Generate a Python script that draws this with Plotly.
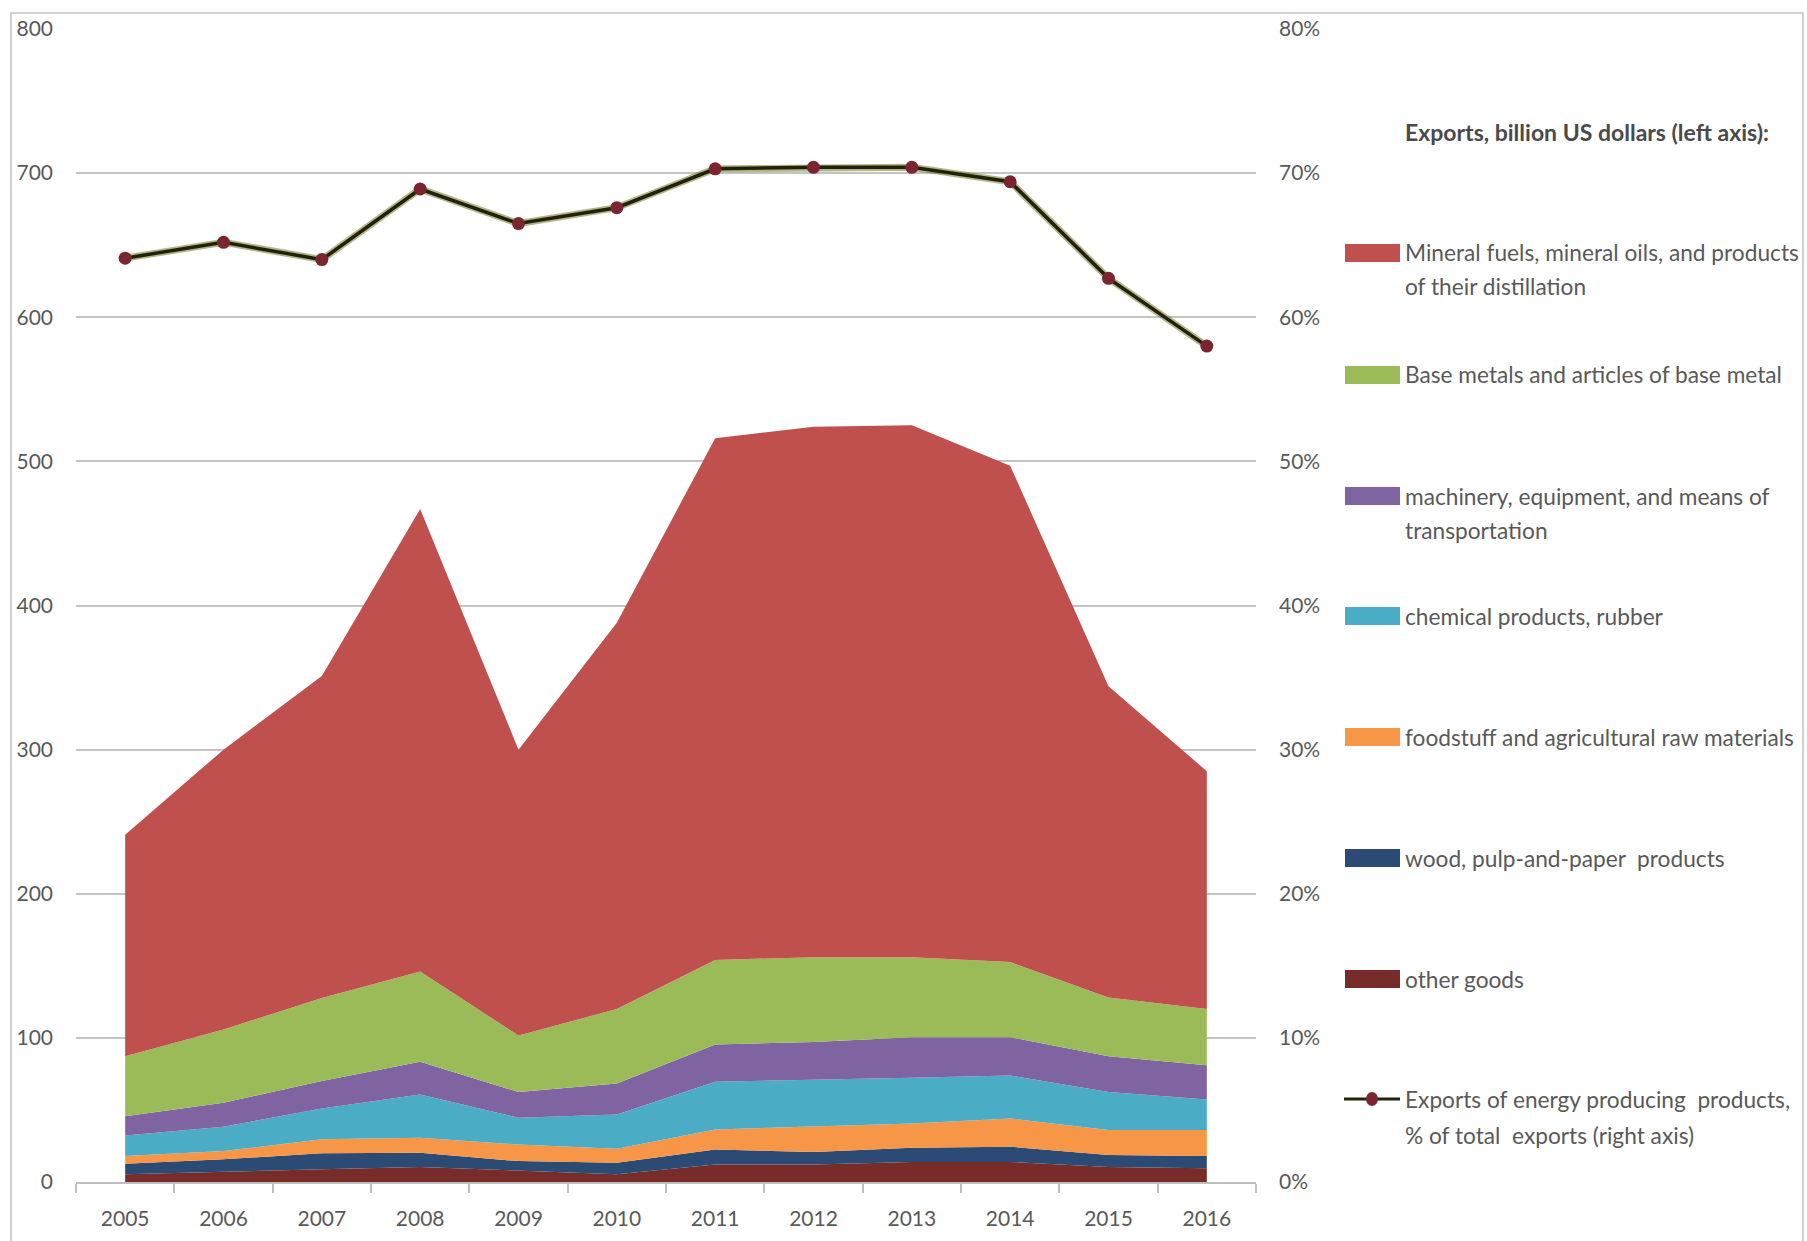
import plotly.graph_objects as go

# ---------------- data ----------------
years = ["2005", "2006", "2007", "2008", "2009", "2010",
         "2011", "2012", "2013", "2014", "2015", "2016"]

other_goods   = [5.3, 7.2, 8.8, 10.4, 8.1, 5.3, 12.2, 12.2, 13.9, 13.9, 10.4, 9.5]
wood_paper    = [7.4, 8.5, 11.1, 9.9, 6.4, 8.1, 10.4, 8.6, 9.9, 10.6, 8.3, 8.5]
foodstuff     = [5.3, 5.8, 9.7, 10.4, 11.5, 9.6, 13.9, 17.5, 16.8, 19.6, 17.3, 18.0]
chemical      = [14.3, 16.8, 21.4, 30.0, 18.6, 23.9, 33.0, 32.4, 31.7, 29.8, 26.4, 21.3]
machinery     = [13.4, 16.7, 19.0, 22.7, 17.8, 21.5, 25.9, 26.5, 28.2, 26.6, 24.9, 23.7]
base_metals   = [41.6, 50.8, 57.7, 62.6, 39.2, 51.6, 58.6, 58.8, 55.5, 52.1, 40.7, 39.0]
mineral_fuels = [153.7, 194.2, 223.3, 321.0, 198.4, 268.0, 362.0, 368.0, 369.0, 344.4, 216.0, 165.0]

energy_share_pct = [64.1, 65.2, 64.0, 68.9, 66.5, 67.6, 70.3, 70.4, 70.4, 69.4, 62.7, 58.0]

left_ticks = [0, 100, 200, 300, 400, 500, 600, 700, 800]
right_ticks = [0, 10, 20, 30, 40, 50, 60, 70, 80]
right_tick_text = ["0%", "10%", "20%", "30%", "40%", "50%", "60%", "70%", "80%"]

legend_title = "Exports, billion US dollars (left axis):"
names = {
    "fuel": ["Mineral fuels, mineral oils, and products", "of their distillation"],
    "base": ["Base metals and articles of base metal"],
    "mach": ["machinery, equipment, and means of", "transportation"],
    "chem": ["chemical products, rubber"],
    "food": ["foodstuff and agricultural raw materials"],
    "wood": ["wood, pulp-and-paper  products"],
    "other": ["other goods"],
    "line": ["Exports of energy producing  products,", "% of total  exports (right axis)"],
}

colors = {
    "fuel": "#C0504D", "base": "#9BBB59", "mach": "#8064A2", "chem": "#4BACC6",
    "food": "#F79646", "wood": "#2B4B74", "other": "#772C2A",
}

# ---------------- layout geometry (page pixel coordinates) ----------------
W, H = 1807, 1241
L, R, T, B = 76, 1256, 29, 1182
FONT = "Lato, 'Open Sans', sans-serif"
TXT = "#595959"
LEG_SIZE = 22.7


def px_x(px):
    return (px - L) / (R - L)


def px_y(py):
    return (B - py) / (B - T)


fig = go.Figure()

stack = [
    ("other", other_goods), ("wood", wood_paper), ("food", foodstuff),
    ("chem", chemical), ("mach", machinery), ("base", base_metals),
    ("fuel", mineral_fuels),
]
for key, vals in stack:
    fig.add_trace(go.Scatter(
        x=years, y=vals, stackgroup="exports", mode="lines",
        line=dict(width=0, color=colors[key]), fillcolor=colors[key],
        name=" ".join(names[key]), showlegend=False, hoverinfo="x+y+name",
    ))

# energy share line (right axis) with a soft olive halo
fig.add_trace(go.Scatter(
    x=years, y=energy_share_pct, yaxis="y2", mode="lines",
    line=dict(color="rgba(120,120,40,0.55)", width=7), showlegend=False,
    hoverinfo="skip",
))
fig.add_trace(go.Scatter(
    x=years, y=energy_share_pct, yaxis="y2", mode="lines+markers",
    line=dict(color="#22220C", width=3.5),
    marker=dict(color="#7A2630", size=13, line=dict(width=0)),
    name=" ".join(names["line"]), showlegend=False,
))

fig.update_layout(
    width=W, height=H, autosize=False,
    margin=dict(l=L, r=W - R, t=T, b=H - B, pad=0, autoexpand=False),
    paper_bgcolor="white", plot_bgcolor="white",
    font=dict(family=FONT, size=21, color=TXT),
    xaxis=dict(
        type="category", range=[-0.5, 11.5], tickson="boundaries",
        ticks="outside", ticklen=9, tickcolor="#BFBFBF", tickwidth=1.5,
        showline=True, linecolor="#BFBFBF", linewidth=1.5,
        showgrid=False, ticklabelstandoff=17, automargin=False,
        tickfont=dict(family=FONT, size=21, color=TXT),
    ),
    yaxis=dict(
        range=[0, 800], tickvals=left_ticks, showline=False, ticks="",
        showgrid=True, gridcolor="#C4C4C4", gridwidth=1.5, zeroline=False,
        ticklabelstandoff=22, automargin=False,
        tickfont=dict(family=FONT, size=21, color=TXT),
    ),
    yaxis2=dict(
        range=[0, 80], tickvals=right_ticks, ticktext=right_tick_text,
        overlaying="y", side="right", showgrid=False, showline=False,
        ticks="", zeroline=False, ticklabelstandoff=22, automargin=False,
        tickfont=dict(family=FONT, size=21, color=TXT),
    ),
    hovermode="closest",
)

shapes = []
annotations = []

# outer chart border
shapes.append(dict(type="rect", xref="paper", yref="paper",
                   x0=px_x(11), x1=px_x(1803), y0=px_y(1265), y1=px_y(13),
                   line=dict(color="#D0D0D0", width=2), fillcolor="rgba(0,0,0,0)",
                   layer="below"))

# legend title
annotations.append(dict(xref="paper", yref="paper", x=px_x(1403), y=px_y(132),
                        xanchor="left", yanchor="middle", showarrow=False,
                        text="<b>" + legend_title + "</b>",
                        font=dict(family=FONT, size=23, color="#4A4A4A")))

legend_rows = [("fuel", 253), ("base", 375), ("mach", 496), ("chem", 616),
               ("food", 737), ("wood", 858), ("other", 979)]
LINE_GAP = 34
for key, yc in legend_rows:
    shapes.append(dict(type="rect", xref="paper", yref="paper",
                       x0=px_x(1345), x1=px_x(1400), y0=px_y(yc + 9), y1=px_y(yc - 9),
                       line=dict(width=0), fillcolor=colors[key]))
    for i, line_txt in enumerate(names[key]):
        annotations.append(dict(xref="paper", yref="paper", x=px_x(1403),
                                y=px_y(yc + i * LINE_GAP), xanchor="left",
                                yanchor="middle", showarrow=False, text=line_txt,
                                font=dict(family=FONT, size=LEG_SIZE, color=TXT)))

# line legend entry
yc = 1099
shapes.append(dict(type="line", xref="paper", yref="paper",
                   x0=px_x(1344), x1=px_x(1400), y0=px_y(yc), y1=px_y(yc),
                   line=dict(color="#22220C", width=3)))
shapes.append(dict(type="circle", xref="paper", yref="paper",
                   x0=px_x(1366), x1=px_x(1378), y0=px_y(yc + 7), y1=px_y(yc - 7),
                   line=dict(width=0), fillcolor="#7A2630"))
for i, line_txt in enumerate(names["line"]):
    annotations.append(dict(xref="paper", yref="paper", x=px_x(1403),
                            y=px_y(yc + i * 36), xanchor="left", yanchor="middle",
                            showarrow=False, text=line_txt,
                            font=dict(family=FONT, size=LEG_SIZE, color=TXT)))

fig.update_layout(shapes=shapes, annotations=annotations)

# place the figure at the very top-left of the page (no default body margin)
fig.write_html(
    "out.html",
    config={"displayModeBar": False},
    post_script="document.body.style.margin='0';document.body.style.overflow='hidden';",
)
